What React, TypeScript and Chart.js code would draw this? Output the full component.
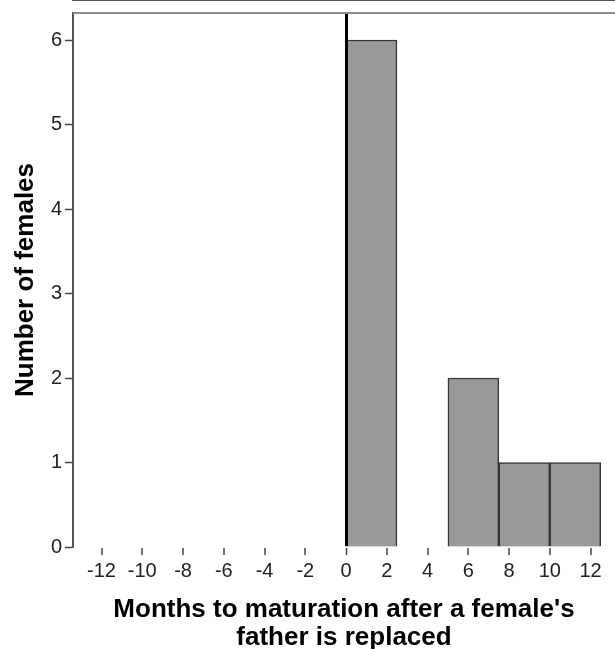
import React, { useEffect, useRef } from 'react';
import { Chart, registerables } from 'chart.js';

Chart.register(...registerables);

// Histogram bins (months) and counts
const binStarts = [0, 5, 7.5, 10];
const binWidth = 2.5;
const counts = [6, 2, 1, 1];

// Axis ranges / ticks
const xMin = -13.4;
const xMax = 13.2;
const xTickStep = 2;
const yMin = 0;
const yMax = 6.32;
const yTickStep = 1;

const xTitle = ["Months to maturation after a female's", 'father is replaced'];
const yTitle = 'Number of females';

const FONT = "'Liberation Sans', Arial, Helvetica, sans-serif";

const topFrame = {
  id: 'topFrame',
  afterDraw(chart: any) {
    const { ctx, chartArea } = chart;
    ctx.save();
    ctx.strokeStyle = '#8c8c8c';
    ctx.lineWidth = 2;
    ctx.beginPath();
    ctx.moveTo(chartArea.left, chartArea.top);
    ctx.lineTo(chartArea.right + 5, chartArea.top);
    ctx.stroke();
    ctx.restore();
  },
};

export default function App() {
  const ref = useRef<HTMLCanvasElement | null>(null);

  useEffect(() => {
    if (!ref.current) return;
    const data = binStarts.map((s, i) => ({ x: s + binWidth / 2, y: counts[i] }));
    const chart = new Chart(ref.current, {
      type: 'bar',
      data: {
        datasets: [
          {
            data,
            xAxisID: 'x',
            yAxisID: 'y',
            backgroundColor: '#999999',
            borderColor: '#353535',
            borderWidth: 1.5,
            categoryPercentage: 1,
            barPercentage: 1,
          },
        ],
      },
      options: {
        animation: false,
        responsive: false,
        maintainAspectRatio: false,
        layout: { padding: { top: 13, left: 0, right: 0, bottom: 0 } },
        plugins: {
          legend: { display: false },
          tooltip: { enabled: false },
        },
        scales: {
          // hidden axis carrying the bins (tick step = bin width)
          x: {
            type: 'linear',
            display: false,
            offset: false,
            grid: { offset: false },
            min: xMin,
            max: xMax,
            ticks: { stepSize: binWidth, includeBounds: false },
          },
          xAxis: {
            type: 'linear',
            position: 'bottom',
            offset: false,
            min: xMin,
            max: xMax,
            afterFit(scale: any) {
              scale.height = 105;
              scale.paddingLeft = 0;
              scale.paddingRight = 0;
            },
            ticks: {
              stepSize: xTickStep,
              includeBounds: false,
              autoSkip: false,
              maxRotation: 0,
              color: '#222',
              padding: 4,
              font: { family: FONT, size: 20 },
            },
            grid: {
              z: 1,
              offset: false,
              drawOnChartArea: true,
              drawTicks: true,
              color: (c: any) => (c.tick && c.tick.value === 0 ? '#000' : 'rgba(0,0,0,0)'),
              lineWidth: (c: any) => (c.tick && c.tick.value === 0 ? 3 : 0),
              tickColor: '#444',
              tickWidth: 1.5,
              tickLength: 8,
            },
            border: { display: true, color: '#555', width: 2 },
            title: {
              display: true,
              text: xTitle,
              color: '#000',
              padding: { top: 4, bottom: 0 },
              font: { family: FONT, size: 26, weight: 'bold', lineHeight: 1.08 },
            },
          },
          y: {
            type: 'linear',
            min: yMin,
            max: yMax,
            afterFit(scale: any) {
              scale.width = 73;
              scale.paddingTop = 0;
              scale.paddingBottom = 0;
            },
            ticks: {
              stepSize: yTickStep,
              includeBounds: false,
              color: '#222',
              padding: 3,
              font: { family: FONT, size: 20 },
            },
            grid: {
              drawOnChartArea: false,
              drawTicks: true,
              tickColor: '#444',
              tickWidth: 1.5,
              tickLength: 8,
            },
            border: { display: true, color: '#555', width: 2 },
            title: {
              display: true,
              text: yTitle,
              color: '#000',
              padding: { top: 10, bottom: 0 },
              font: { family: FONT, size: 26, weight: 'bold', lineHeight: 1.2 },
            },
          },
        },
      },
      plugins: [topFrame],
    });
    return () => chart.destroy();
  }, []);

  return (
    <div
      style={{
        position: 'absolute',
        left: 0,
        top: 0,
        width: 615,
        height: 649,
        overflow: 'hidden',
        background: '#fff',
      }}
    >
      <canvas ref={ref} width={615} height={652} style={{ display: 'block' }} />
    </div>
  );
}
